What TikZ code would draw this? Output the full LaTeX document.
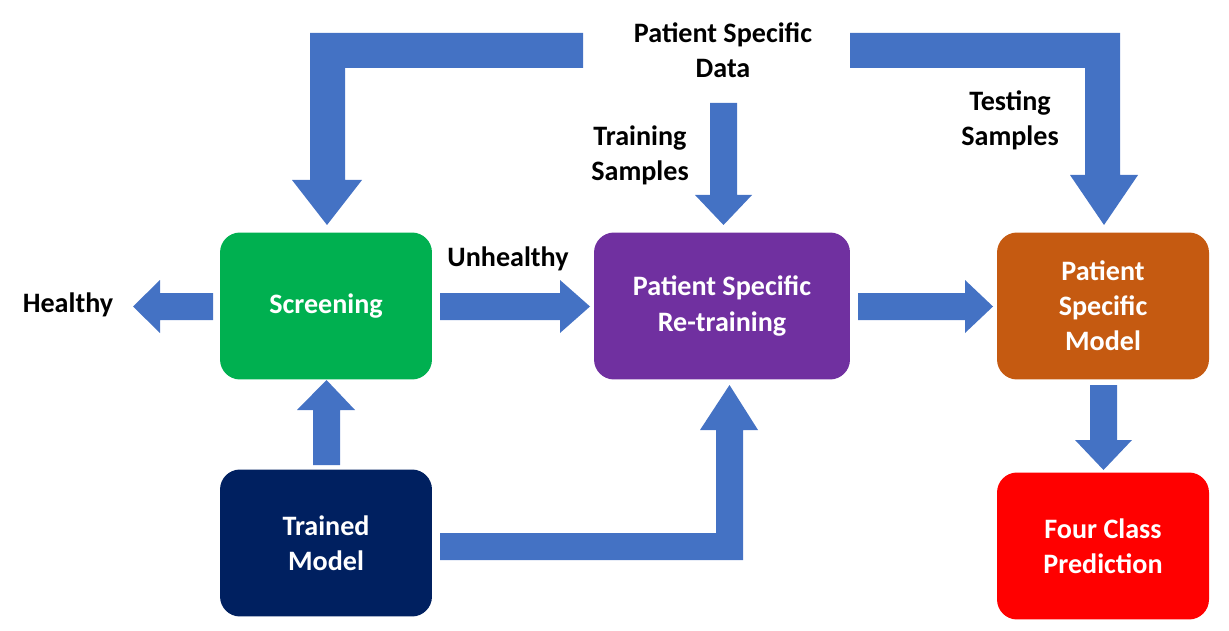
\documentclass[tikz,border=0pt]{standalone}
\usepackage{fontspec}
\setmainfont{Carlito}
\usetikzlibrary{positioning}
\definecolor{arrowblue}{RGB}{68,114,196}
\definecolor{screengreen}{RGB}{0,176,80}
\definecolor{retrainpurple}{RGB}{112,48,160}
\definecolor{modelorange}{RGB}{197,90,17}
\definecolor{trainednavy}{RGB}{0,32,96}
\tikzset{
  box/.style={rounded corners=0.4cm,minimum width=4.24cm,minimum height=2.94cm,
    text=white,font=\fontsize{16}{20}\selectfont\bfseries,align=center,inner sep=0pt},
  lbl/.style={font=\fontsize{16}{20}\selectfont\bfseries,align=center,inner sep=0pt},
  blk/.style={fill=arrowblue,draw=none}
}
\begin{document}
\begin{tikzpicture}[x=0.02cm,y=-0.02cm]
  \useasboundingbox (0,0) rectangle (1229,631);
  % boxes
  \node(screen) [box,fill=screengreen] at (326,306) {Screening};
  \node(retrain) [box,fill=retrainpurple,minimum width=5.12cm] at (722,306) {Patient Specific\\Re-training};
  \node(psmodel) [box,fill=modelorange] at (1103,306) {Patient\\Specific\\Model};
  \node(trained) [box,fill=trainednavy] at (326,543) {Trained\\Model};
  \node(predict) [box,fill=red] at (1103,546) {Four Class\\Prediction};
  % labels
  \node(data) [lbl] at (723,50) {Patient Specific\\Data};
  \node(healthy) [lbl] at (68,305) {Healthy};
  \node(unhealthy) [lbl] at (508,259) {Unhealthy};
  \node(trainsmp) [lbl] at (640,155) {Training\\Samples};
  \node(testsmp) [lbl] at (1010,120) {Testing\\Samples};
  % block arrows
  \fill[blk] (213,293) -- (160,293) -- (160,280) -- (133,306.5) -- (160,333) -- (160,320) -- (213,320) -- cycle;
  \fill[blk] (440,293) -- (560,293) -- (560,280) -- (590,306.5) -- (560,333) -- (560,320) -- (440,320) -- cycle;
  \fill[blk] (858,293) -- (965,293) -- (965,280) -- (993,306.5) -- (965,333) -- (965,320) -- (858,320) -- cycle;
  \fill[blk] (1090,385) -- (1117,385) -- (1117,440) -- (1132,440) -- (1103.5,470) -- (1075,440) -- (1090,440) -- cycle;
  \fill[blk] (313,465) -- (340,465) -- (340,410) -- (355,410) -- (326.5,380) -- (297,410) -- (313,410) -- cycle;
  \fill[blk] (440,533) -- (716,533) -- (716,430) -- (700,430) -- (729.5,385) -- (758,430) -- (743,430) -- (743,560) -- (440,560) -- cycle;
  \fill[blk] (583,33) -- (583,68) -- (345,68) -- (345,180) -- (362,180) -- (327,225) -- (292,180) -- (310,180) -- (310,33) -- cycle;
  \fill[blk] (710,103) -- (737,103) -- (737,195) -- (752,195) -- (723.5,225) -- (695,195) -- (710,195) -- cycle;
  \fill[blk] (850,33) -- (1120,33) -- (1120,175) -- (1138,175) -- (1104,225) -- (1070,175) -- (1085,175) -- (1085,68) -- (850,68) -- cycle;
\end{tikzpicture}
\end{document}
